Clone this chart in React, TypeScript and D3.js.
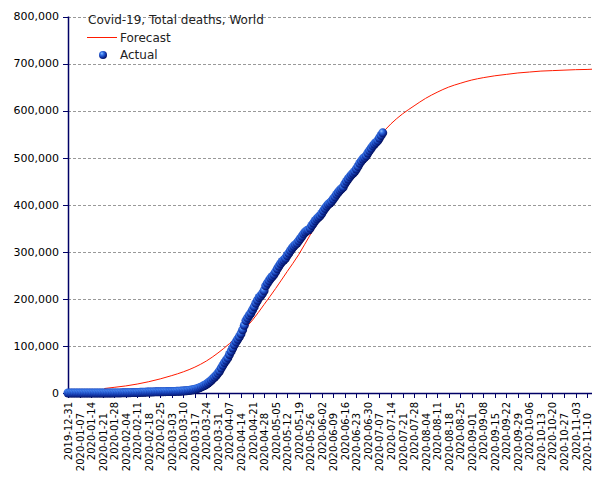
import React from "react";
import * as d3 from "d3";

// Cumulative deaths, daily from 2019-12-31
const actualStart = "2019-12-31";
const actualDeaths = [
  0,
  0, 0, 0, 0, 0, 0, 0, 0, 0, 0, 1, 1, 1, 1, 1, 1, 2, 2, 3, 3, 6,
  17, 18, 26, 42, 56, 82, 131, 133, 171, 213,
  259, 362, 426, 492, 564, 634, 719, 806, 906, 1013, 1113, 1118, 1371, 1523, 1666,
  1770, 1868, 2007, 2122, 2247, 2251, 2458, 2469, 2629, 2708, 2770, 2814, 2872, 2941,
  2996, 3085, 3160, 3254, 3348, 3460, 3558, 3802, 3988, 4262, 4615, 4720, 5404, 5819,
  6440, 7126, 7905, 8733, 9867, 11299, 12973, 14651, 16505, 18625, 21181, 23970,
  27198, 30652, 33925, 37582, 42107,
  46809, 52983, 58787, 64606, 69374, 74565, 81865, 88338, 95521, 102525, 108502,
  114090, 119481, 125983, 134176, 143800, 153822, 159510, 165044, 169991, 176583,
  183066, 190858, 197161, 202846, 206544, 211167, 217153, 227638, 233388,
  238650, 243808, 247470, 251537, 257239, 263855, 269567, 274898, 279311, 282709,
  286330, 292046, 297197, 302418, 307666, 311781, 315185, 318481, 323285, 328115,
  332924, 338160, 342097, 345059, 346232, 350453, 356093, 361020, 365977, 370024, 373439,
  376674, 381497, 387022, 392239, 397045, 401047, 403764, 407359, 412137, 416876,
  422058, 426542, 430782, 434025, 437364, 444349, 449713, 454779, 459301, 463564,
  467006, 470700, 476031, 481429, 487939, 492735, 497184, 500397, 503946, 510050,
  515043, 519953, 525005, 529103, 532459, 536136, 541911, 547405, 552806,
];

const forecastDates = [
  "2020-01-22", "2020-01-28", "2020-02-04", "2020-02-11", "2020-02-18", "2020-02-25",
  "2020-03-03", "2020-03-10", "2020-03-17", "2020-03-24", "2020-03-31", "2020-04-07",
  "2020-04-14", "2020-04-21", "2020-04-28", "2020-05-05", "2020-05-12", "2020-05-19",
  "2020-05-26", "2020-06-02", "2020-06-09", "2020-06-16", "2020-06-23", "2020-06-30",
  "2020-07-07", "2020-07-14", "2020-07-21", "2020-07-28", "2020-08-04", "2020-08-11",
  "2020-08-18", "2020-08-25", "2020-09-01", "2020-09-08", "2020-09-15", "2020-09-22",
  "2020-09-29", "2020-10-06", "2020-10-13", "2020-10-20", "2020-10-27", "2020-11-03",
  "2020-11-10", "2020-11-13",
];
const forecastValues = [
  9500, 12000, 15000, 19000, 24000, 30000,
  37000, 45000, 55000, 68000, 85000, 105000,
  128000, 155000, 188000, 222000, 258000, 294000,
  336000, 374000, 410000, 445000, 480000, 512000,
  545000, 572000, 593000, 610000, 626000, 639000,
  650000, 658000, 665000, 670000, 674000, 677000,
  680000, 682000, 684000, 685000, 686000, 687000,
  687500, 688000,
];

const yTicks = [0, 100000, 200000, 300000, 400000, 500000, 600000, 700000, 800000];
const title = "Covid-19, Total deaths, World";

const W = 605;
const H = 480;
const left = 68;
const right = 592;
const top = 16.5;
const bottom = 393;
const axisColor = "#000066";
const font = "DejaVu Sans, Verdana, sans-serif";

const parse = d3.utcParse("%Y-%m-%d");
const fmtDate = d3.utcFormat("%Y-%m-%d");
const fmtNum = d3.format(",");

const App: React.FC = () => {
  const x = d3
    .scaleUtc()
    .domain([parse("2019-12-31")!, parse("2020-11-13")!])
    .range([left, right]);
  const y = d3.scaleLinear().domain([0, 800000]).range([bottom, top]);

  const start = parse(actualStart)!;
  const actual = actualDeaths.map((v, i) => ({ date: d3.utcDay.offset(start, i), v }));
  const forecast = forecastDates.map((d, i) => ({ date: parse(d)!, v: forecastValues[i] }));

  const line = d3
    .line<{ date: Date; v: number }>()
    .x((d) => x(d.date))
    .y((d) => y(d.v))
    .curve(d3.curveMonotoneX);

  const xTicks = d3.utcTuesday.range(parse("2019-12-31")!, parse("2020-11-11")!);

  return (
    <svg
      width={W}
      height={H}
      style={{ position: "absolute", left: 0, top: 0, background: "#fff" }}
      fontFamily={font}
    >
      <defs>
        <radialGradient id="ball" cx="38%" cy="35%" r="70%" fx="35%" fy="30%">
          <stop offset="0%" stopColor="#8fc0ff" />
          <stop offset="30%" stopColor="#3472e6" />
          <stop offset="65%" stopColor="#1236a8" />
          <stop offset="100%" stopColor="#000a55" />
        </radialGradient>
      </defs>
      <rect width={W} height={H} fill="#fff" />

      {/* gridlines */}
      {yTicks
        .filter((t) => t > 0)
        .map((t) => (
          <line
            key={"g" + t}
            x1={left}
            x2={right}
            y1={Math.round(y(t)) + 0.5}
            y2={Math.round(y(t)) + 0.5}
            stroke="#999"
            strokeDasharray="3,2"
          />
        ))}

      {/* y axis */}
      <line x1={left + 0.5} x2={left + 0.5} y1={top} y2={bottom} stroke={axisColor} strokeWidth={1.5} />
      {yTicks.map((t) => (
        <g key={"y" + t}>
          <line x1={left - 5} x2={left} y1={Math.round(y(t)) + 0.5} y2={Math.round(y(t)) + 0.5} stroke={axisColor} />
          <text x={left - 9} y={y(t)} dy="0.35em" textAnchor="end" fontSize={11} fill="#000">
            {fmtNum(t)}
          </text>
        </g>
      ))}

      {/* x axis */}
      <line x1={left} x2={right} y1={bottom + 0.5} y2={bottom + 0.5} stroke={axisColor} strokeWidth={1.5} />
      {xTicks.map((d, i) => {
        const xx = Math.round(x(d)) + 0.5;
        const ty = i % 2 === 0 ? 402 : 413;
        return (
          <g key={"x" + i}>
            <line x1={xx} x2={xx} y1={bottom} y2={bottom + 5} stroke={axisColor} />
            <text
              transform={`translate(${xx},${ty}) rotate(-90)`}
              dy="0.35em"
              textAnchor="end"
              fontSize={10}
              fill="#000"
            >
              {fmtDate(d)}
            </text>
          </g>
        );
      })}

      {/* forecast */}
      <path d={line(forecast) ?? ""} fill="none" stroke="#ff1a00" strokeWidth={1} />

      {/* actual */}
      {actual.map((d, i) => (
        <circle key={"a" + i} cx={x(d.date)} cy={y(d.v)} r={4.5} fill="url(#ball)" />
      ))}

      {/* legend */}
      <text x={88} y={24} fontSize={12} fill="#222">
        {title}
      </text>
      <line x1={87} x2={117} y1={37.5} y2={37.5} stroke="#ff1a00" />
      <text x={120} y={37.5} dy="0.35em" fontSize={12} fill="#222">
        Forecast
      </text>
      <circle cx={103} cy={55} r={4} fill="url(#ball)" />
      <text x={120} y={55} dy="0.35em" fontSize={12} fill="#222">
        Actual
      </text>
    </svg>
  );
};

export default App;
